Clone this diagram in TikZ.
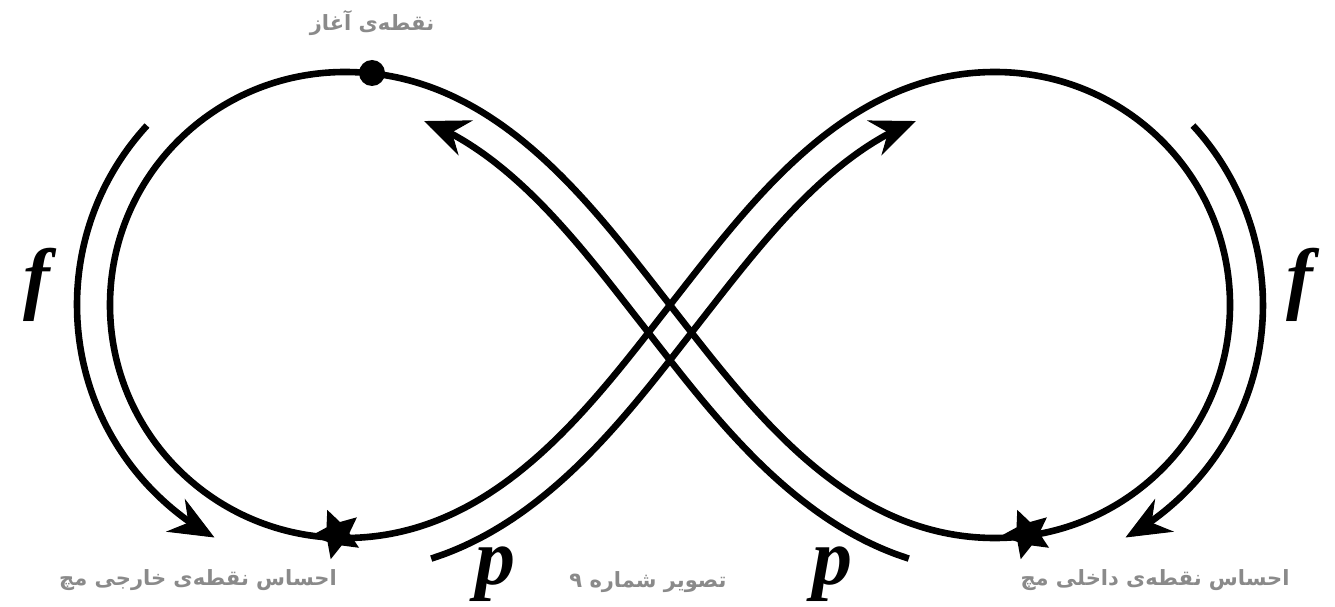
\documentclass[tikz,border=0pt]{standalone}
\usepackage{fontspec}
\TeXXeTstate=1
\newfontfamily\fa[Script=Arabic]{DejaVu Sans}
\newfontfamily\lat{Liberation Serif}
\usetikzlibrary{arrows.meta,calc,shapes.geometric}
\definecolor{txtgray}{HTML}{8A8A8A}
% cubic Bezier value and (scaled) derivative in the plot variable \t
\newcommand\bz[4]{((1-\t)*(1-\t)*(1-\t)*(#1)+3*(1-\t)*(1-\t)*\t*(#2)+3*(1-\t)*\t*\t*(#3)+\t*\t*\t*(#4))}
\newcommand\bd[4]{(((1-\t)*(1-\t)*((#2)-(#1))+2*(1-\t)*\t*((#3)-(#2))+\t*\t*((#4)-(#3)))/100)}
% curve parallel to a Bezier segment, at distance \od to the left of its direction
\newcommand\offseg[9]{plot[variable=\t,domain=#1,samples=26,smooth]
 ({\bz{#2}{#4}{#6}{#8}-\od*\bd{#3}{#5}{#7}{#9}/veclen(\bd{#2}{#4}{#6}{#8},\bd{#3}{#5}{#7}{#9})},
  {\bz{#3}{#5}{#7}{#9}+\od*\bd{#2}{#4}{#6}{#8}/veclen(\bd{#2}{#4}{#6}{#8},\bd{#3}{#5}{#7}{#9})})}
\begin{document}
\begin{tikzpicture}[x=1pt,y=1pt,
  main/.style={line width=6.6pt},
  arr/.style={line width=6.6pt, -{Stealth[length=45pt,width=38pt,inset=15pt,line width=1pt]}},
  lbl/.style={text=txtgray, font=\fa\bfseries\fontsize{21}{25}\selectfont},
  sym/.style={font=\lat\bfseries\itshape\fontsize{80}{80}\selectfont},
  starmark/.style={star, star points=5, star point ratio=2.1, fill=black, minimum size=52pt, inner sep=0pt, rotate=22}
]
\useasboundingbox (0,0) rectangle (1335,606);
% key points of the figure eight
\coordinate (A) at (670,301);
\coordinate (Q1) at (345,534);
\coordinate (W1) at (110,301);
\coordinate (B1) at (345,68);
\coordinate (Q2) at (995,534);
\coordinate (E2) at (1230,301);
\coordinate (B2) at (995,68);
\draw[main] (A) .. controls (590,403) and (495,534) .. (Q1)
  .. controls (215,534) and (110,430) .. (W1)
  .. controls (110,172) and (215,68) .. (B1)
  .. controls (495,68) and (590,199) .. (A)
  .. controls (750,403) and (845,534) .. (Q2)
  .. controls (1125,534) and (1230,430) .. (E2)
  .. controls (1230,172) and (1125,68) .. (B2)
  .. controls (845,68) and (750,199) .. (A) -- cycle;
% p arrows
\def\od{34}
\draw[arr] \offseg{0.18:1}{995}{68}{845}{68}{750}{199}{670}{301}
  \offseg{0:0.78}{670}{301}{590}{403}{495}{534}{345}{534};
\def\od{-34}
\draw[arr] \offseg{0.18:1}{345}{68}{495}{68}{590}{199}{670}{301}
  \offseg{0:0.78}{670}{301}{750}{403}{845}{534}{995}{534};
% f arrows
\def\od{-33}
\draw[arr] \offseg{0.53:1}{345}{534}{215}{534}{110}{430}{110}{301}
  \offseg{0:0.68}{110}{301}{110}{172}{215}{68}{345}{68};
\def\od{33}
\draw[arr] \offseg{0.53:1}{995}{534}{1125}{534}{1230}{430}{1230}{301}
  \offseg{0:0.68}{1230}{301}{1230}{172}{1125}{68}{995}{68};
% marks
\fill (372,533) circle[radius=13];
\node[starmark] (s1) at (337,72) {};
\node[starmark] (s2) at (1027,72) {};
% labels
\node[lbl] (start) at (372,583) {\beginR نقطه‌ی آغاز\endR};
\node[lbl] (outer) at (198,26) {\beginR احساس نقطه‌ی خارجی مچ\endR};
\node[lbl] (cap) at (648,24) {\beginR تصویر شماره ۹\endR};
\node[lbl] (inner) at (1155,26) {\beginR احساس نقطه‌ی داخلی مچ\endR};
\node[sym] (f1) at (37,321) {f};
\node[sym] (f2) at (1300,321) {f};
\node[sym] (p1) at (495,32) {p};
\node[sym] (p2) at (832,32) {p};
\end{tikzpicture}
\end{document}
